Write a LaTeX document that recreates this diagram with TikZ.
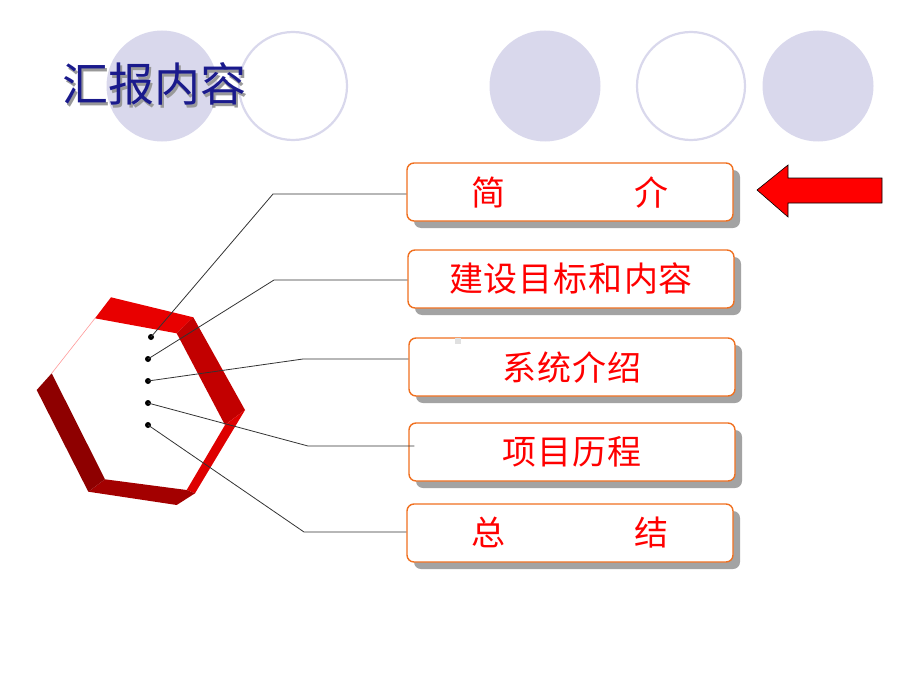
\documentclass[tikz,border=0pt]{standalone}
\usepackage{fontspec}
\newfontfamily\cjk{Noto Sans CJK SC}
\usetikzlibrary{shadows}
\definecolor{navy}{HTML}{1A1A8C}
\definecolor{lav}{HTML}{D9D8EC}
\definecolor{boxorange}{HTML}{F07020}
\definecolor{redA}{HTML}{E80000}
\definecolor{redB}{HTML}{C20000}
\definecolor{redC}{HTML}{DE0000}
\definecolor{redD}{HTML}{A30000}
\definecolor{redE}{HTML}{8E0000}
\tikzset{
  disc/.style={circle,fill=lav,minimum size=111pt,inner sep=0pt},
  ring/.style={circle,draw=lav,line width=2.2pt,minimum size=108pt,inner sep=0pt},
  itembox/.style={draw=boxorange,line width=1.4pt,rounded corners=7pt,fill=white,
    minimum width=326pt,minimum height=58pt,inner sep=0pt,
    font=\cjk\fontsize{34}{36}\selectfont,text=red,
    drop shadow={shadow xshift=7pt,shadow yshift=-7pt,fill=black!36,opacity=1}},
  dotmark/.style={circle,fill=black,minimum size=6pt,inner sep=0pt},
  leader/.style={draw=black!80,line width=0.8pt},
}
\newcommand{\spaced}[1]{#1}
\begin{document}
\begin{tikzpicture}[x=1pt,y=-1pt]
\useasboundingbox (0,0) rectangle (920,690);
% decorative circles
\node[disc] (c1) at (162,86) {};
\node[ring] (c2) at (293,86) {};
\node[disc] (c3) at (545,86) {};
\node[ring] (c4) at (691,86) {};
\node[disc] (c5) at (818,86) {};
% title with shadow
\node[text=navy,font=\cjk\fontsize{46}{48}\selectfont] (title) at (154,85)
  {\makebox[0pt][l]{\hspace{2.5pt}\raisebox{-3pt}{\textcolor{black!40}{汇报内容}}}汇报内容};
% hexagon ring
\fill[redA] (111,297.3) -- (193.3,317.3) -- (176.7,333.3) -- (95,318.3) -- cycle;
\fill[redB] (193.3,317.3) -- (245,410) -- (225,425) -- (176.7,333.3) -- cycle;
\fill[redC] (245,410) -- (195,493.3) -- (186.7,490) -- (225,425) -- cycle;
\fill[redD] (186.7,490) -- (195,493.3) -- (176.7,505) -- (88.3,491.7) -- (105,479.3) -- cycle;
\fill[redE] (88.3,491.7) -- (36.7,390) -- (51.7,373.3) -- (105,479.3) -- cycle;
\draw[draw=red!40!white,line width=0.6pt] (51.7,373.3) -- (95,318.3);
% boxes
\node[itembox] (b1) at (570,192) {简\hspace{129pt}介};
\node[itembox] (b2) at (571,279) {建\kern1pt 设\kern1pt 目\kern1pt 标\kern1pt 和\kern1pt 内\kern1pt 容};
\node[itembox] (b3) at (572,367) {系\kern1pt 统\kern1pt 介\kern1pt 绍};
\node[itembox] (b4) at (572,452) {项\kern1pt 目\kern1pt 历\kern1pt 程};
\node[itembox] (b5) at (570,533) {总\hspace{129pt}结};
% small grey mark
\fill[black!12] (455,338) rectangle (461,344);
% dots
\node[dotmark] (p1) at (151,337) {};
\node[dotmark] (p2) at (148,359) {};
\node[dotmark] (p3) at (148,381) {};
\node[dotmark] (p4) at (148,403) {};
\node[dotmark] (p5) at (148,425) {};
% elbow coordinates
\coordinate (k1) at (273,194);
\coordinate (k2) at (274,280);
\coordinate (k3) at (303,359);
\coordinate (k4) at (308,446);
\coordinate (k5) at (304,532);
\draw[leader] (p1.center) -- (k1) -- (k1 -| b1.west);
\draw[leader] (p2.center) -- (k2) -- (k2 -| b2.west);
\draw[leader] (p3.center) -- (k3) -- (k3 -| b3.west);
\draw[leader] (p4.center) -- (k4) -- ([xshift=6pt]k4 -| b4.west);
\draw[leader] (p5.center) -- (k5) -- (k5 -| b5.west);
% pointer arrow
\filldraw[fill=red,draw=black,line width=0.6pt] (757,190) -- (788,165) -- (788,178) -- (882,178) -- (882,203) -- (788,203) -- (788,217) -- cycle;
\end{tikzpicture}
\end{document}
